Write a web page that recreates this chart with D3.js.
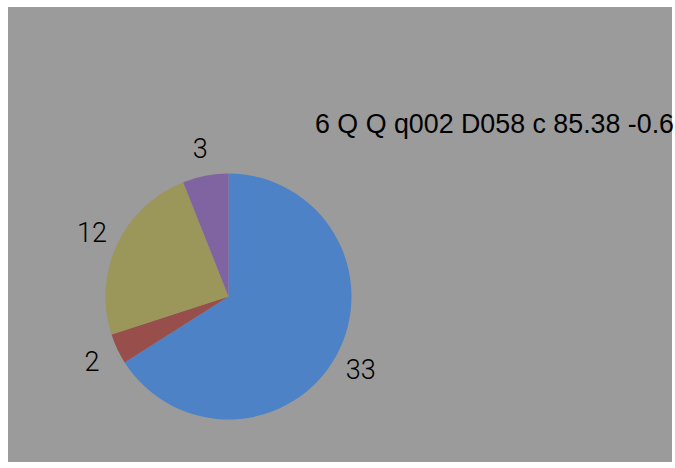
<!DOCTYPE html>
<html>
<head>
<meta charset="utf-8">
<script src="https://cdn.jsdelivr.net/npm/d3@7"></script>
<style>
  html, body { margin: 0; padding: 0; background: #ffffff; }
  svg { display: block; }
</style>
</head>
<body>
<div id="chart"></div>
<script>
// Data
const categories = ["A", "B", "C", "D"];
const values = [33, 2, 12, 3];
const colors = ["#4e82c7", "#984f4b", "#9b9659", "#8064a2"];
const titleText = "6 Q Q q002 D058 c 85.38 -0.6";

const W = 675, H = 468;
const svg = d3.select("#chart").append("svg")
  .attr("width", W).attr("height", H);

// plot background
svg.append("rect")
  .attr("x", 8).attr("y", 7)
  .attr("width", 664).attr("height", 455)
  .attr("fill", "#9b9b9b");

const cx = 228.5, cy = 296.5, r = 123;
const g = svg.append("g").attr("transform", `translate(${cx},${cy})`);

const data = categories.map((c, i) => ({ cat: c, value: values[i], color: colors[i] }));
const pie = d3.pie().value(d => d.value).sort(null);
const arcs = pie(data);
const arc = d3.arc().innerRadius(0).outerRadius(r);
const labelArc = d3.arc().innerRadius(151).outerRadius(151);

g.selectAll("path.slice").data(arcs).join("path")
  .attr("class", "slice")
  .attr("d", arc)
  .attr("fill", d => d.data.color);

g.selectAll("text.lbl").data(arcs).join("text")
  .attr("class", "lbl")
  .attr("transform", d => `translate(${labelArc.centroid(d)})`)
  .attr("text-anchor", "middle")
  .attr("dy", "0.36em")
  .attr("font-family", "Roboto, 'Liberation Sans', Arial, sans-serif")
  .attr("font-weight", 300)
  .attr("font-size", 27)
  .attr("fill", "#000")
  .text(d => d.data.value);

svg.append("text")
  .attr("x", 315).attr("y", 133)
  .attr("font-family", "'Liberation Sans', Arial, sans-serif")
  .attr("font-size", 26.8)
  .attr("fill", "#000")
  .text(titleText);
</script>
</body>
</html>
